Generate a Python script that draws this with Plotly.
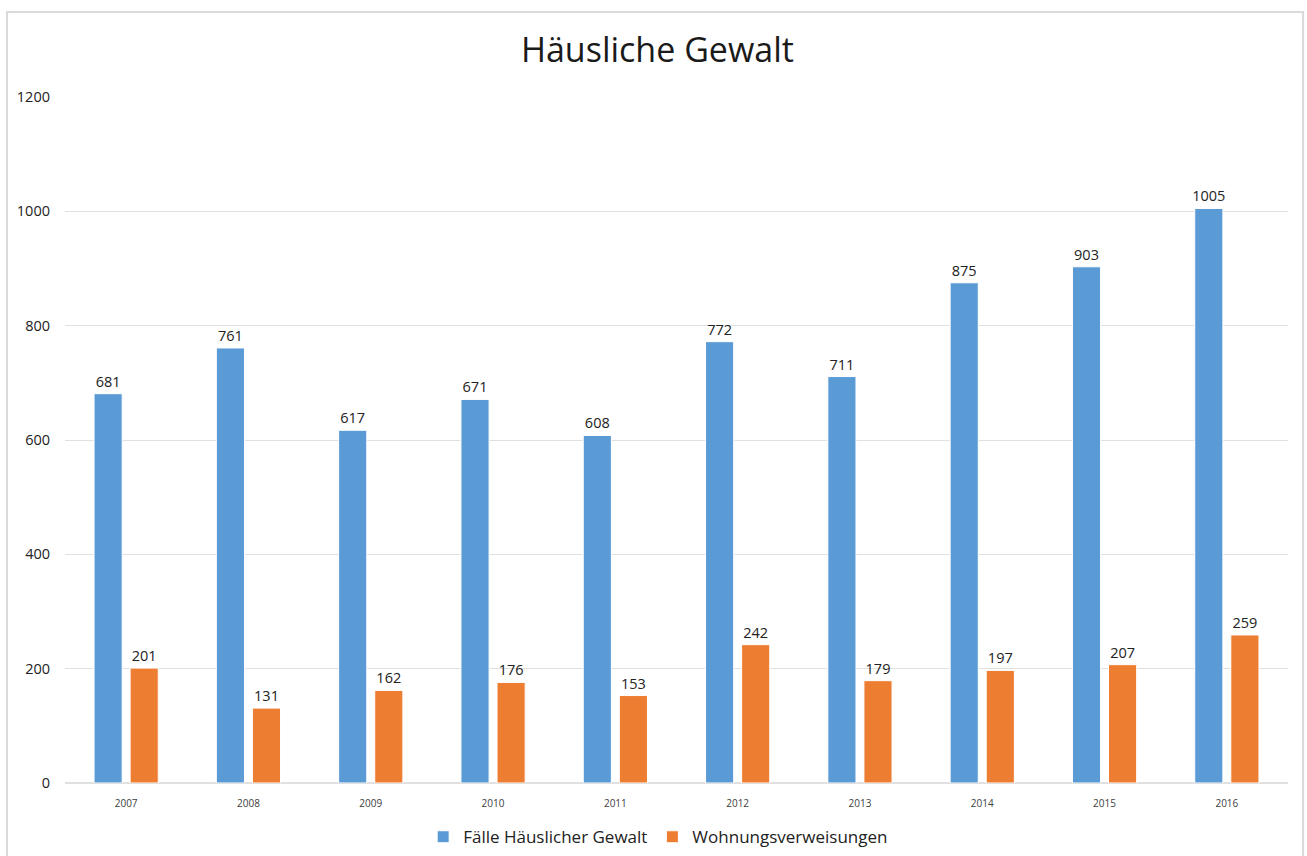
import plotly.graph_objects as go

# Daten
jahre = ["2007", "2008", "2009", "2010", "2011", "2012", "2013", "2014", "2015", "2016"]
faelle = [681, 761, 617, 671, 608, 772, 711, 875, 903, 1005]
verweisungen = [201, 131, 162, 176, 153, 242, 179, 197, 207, 259]

FONT = "Open Sans"

fig = go.Figure()

fig.add_trace(go.Bar(
    x=jahre, y=faelle,
    name="Fälle Häuslicher Gewalt",
    marker=dict(color="#5B9BD5", line=dict(color="white", width=1)),
    text=faelle, textposition="outside", cliponaxis=False, constraintext="none",
    textfont=dict(size=14.5, color="#222222", family=FONT),
))
fig.add_trace(go.Bar(
    x=jahre, y=verweisungen,
    name="Wohnungsverweisungen",
    marker=dict(color="#ED7D31", line=dict(color="white", width=1)),
    text=verweisungen, textposition="outside", cliponaxis=False, constraintext="none",
    textfont=dict(size=14.5, color="#222222", family=FONT),
))

# Rahmen um das Diagramm (unten abgeschnitten wie im Original)
fig.add_shape(type="rect", xref="paper", yref="paper",
              x0=-0.0474, x1=1.0123, y0=-0.12, y1=1.124,
              line=dict(color="#D9D9D9", width=2), layer="below")

fig.update_layout(
    width=1307, height=856,
    margin=dict(l=65, r=19, t=97, b=73, autoexpand=False),
    paper_bgcolor="white", plot_bgcolor="white",
    barmode="group", bargap=0.41, bargroupgap=0.22,
    title=dict(text="Häusliche Gewalt", x=0.503, xanchor="center",
               y=0.942, yanchor="middle",
               font=dict(size=34, color="#1a1a1a", family=FONT)),
    xaxis=dict(showgrid=False, showline=False, ticks="", automargin=False,
               ticklabelstandoff=13,
               tickfont=dict(size=10, color="#404040", family=FONT)),
    yaxis=dict(range=[0, 1200], dtick=200, showgrid=True, automargin=False,
               gridcolor="#E0E0E0", gridwidth=1, zeroline=True,
               zerolinecolor="#E0E0E0", showline=False, ticks="",
               ticklabelstandoff=14,
               tickfont=dict(size=14.5, color="#222222", family=FONT)),
    legend=dict(orientation="h", x=0.485, xanchor="center", y=-0.079,
                yanchor="middle", font=dict(size=17, color="#222222", family=FONT),
                itemwidth=30, tracegroupgap=0),
    showlegend=True,
)

# Seitenrand des Browsers entfernen, damit die Pixel exakt passen
fig.write_html("out.html", config={"displayModeBar": False},
               post_script="document.body.style.margin='0';")
